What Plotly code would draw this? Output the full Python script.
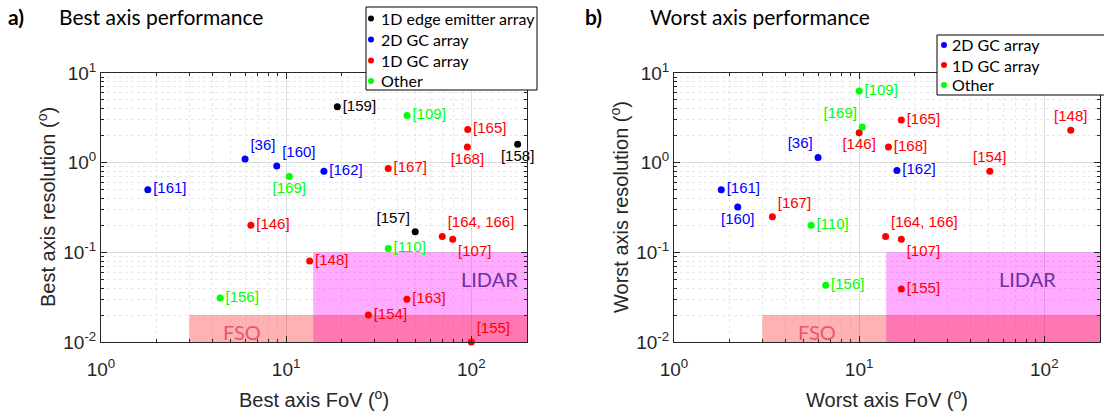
import math
import plotly.graph_objects as go

# ---------------- panel a) best axis ----------------
best_edge_labels = ["[159]", "[157]", "[158]"]
best_edge_fov = [18.9, 49.8, 178]
best_edge_res = [4.2, 0.17, 1.6]

best_2d_labels = ["[36]", "[160]", "[162]", "[161]"]
best_2d_fov = [6.0, 8.9, 16.0, 1.79]
best_2d_res = [1.1, 0.92, 0.80, 0.50]

best_1d_labels = ["[165]", "[168]", "[167]", "[146]", "[164, 166]", "[107]",
                  "[148]", "[163]", "[154]", "[155]"]
best_1d_fov = [95.7, 95.3, 35.6, 6.45, 69.7, 79.4, 13.4, 44.9, 27.8, 100]
best_1d_res = [2.35, 1.5, 0.86, 0.20, 0.15, 0.14, 0.08, 0.030, 0.020, 0.010]

best_other_labels = ["[109]", "[169]", "[110]", "[156]"]
best_other_fov = [45, 10.4, 35.6, 4.4]
best_other_res = [3.35, 0.70, 0.11, 0.031]

# ---------------- panel b) worst axis ----------------
worst_2d_labels = ["[36]", "[162]", "[161]", "[160]"]
worst_2d_fov = [6.0, 16.0, 1.80, 2.21]
worst_2d_res = [1.14, 0.82, 0.50, 0.32]

worst_1d_labels = ["[165]", "[148]", "[146]", "[168]", "[154]", "[167]",
                   "[164, 166]", "[107]", "[155]"]
worst_1d_fov = [16.9, 139, 10.0, 14.4, 50.8, 3.4, 13.9, 16.9, 16.9]
worst_1d_res = [3.0, 2.3, 2.15, 1.5, 0.80, 0.25, 0.15, 0.14, 0.039]

worst_other_labels = ["[109]", "[169]", "[110]", "[156]"]
worst_other_fov = [10.0, 10.4, 5.5, 6.6]
worst_other_res = [6.3, 2.5, 0.20, 0.043]

# regions (FoV range, resolution range)
lidar_fov = [14, 200]
lidar_res = [0.01, 0.1]
fso_fov = [3, 200]
fso_res = [0.01, 0.02]

# axis ticks
x_ticks = [1, 10, 100]
x_ticktext = ["10<sup>0</sup>", "10<sup>1</sup>", "10<sup>2</sup>"]
y_ticks = [0.01, 0.1, 1, 10]
y_ticktext = ["10<sup>-2</sup>", "10<sup>-1</sup>", "10<sup>0</sup>", "10<sup>1</sup>"]

# legends
legend_a_names = ["1D edge emitter array", "2D GC array", "1D GC array", "Other"]
legend_b_names = ["2D GC array", "1D GC array", "Other"]

# ---------------- label placement (style) ----------------
best_edge_pos = ["middle right", "top left", "bottom center"]
best_2d_pos = ["top right", "top right", "middle right", "middle right"]
best_1d_pos = ["middle right", "bottom center", "middle right", "middle right",
               "top right", "bottom right", "middle right", "middle right",
               "middle right", "top right"]
best_other_pos = ["middle right", "bottom center", "middle right", "middle right"]

worst_2d_pos = ["top left", "middle right", "middle right", "bottom center"]
worst_1d_pos = ["middle right", "top center", "bottom center", "middle right",
                "top center", "top right", "top right", "bottom right", "middle right"]
worst_other_pos = ["middle right", "top left", "middle right", "middle right"]

BLACK, BLUE, RED, GREEN = "#000000", "#0000ff", "#ff0000", "#00ff00"
AXC = "#262626"
W, H = 1104, 411
SANS = "Arial"
CAL = "Lato"

fig = go.Figure()


def add_group(name, xs, ys, labels, pos, color, xa, ya):
    fig.add_trace(go.Scatter(
        x=xs, y=ys, mode="markers+text", name=name, xaxis=xa, yaxis=ya,
        text=labels, textposition=pos,
        textfont=dict(family=SANS, size=15, color=color),
        marker=dict(size=7, color=color), showlegend=False, cliponaxis=False))


add_group(legend_a_names[0], best_edge_fov, best_edge_res, best_edge_labels,
          best_edge_pos, BLACK, "x", "y")
add_group(legend_a_names[1], best_2d_fov, best_2d_res, best_2d_labels,
          best_2d_pos, BLUE, "x", "y")
add_group(legend_a_names[2], best_1d_fov, best_1d_res, best_1d_labels,
          best_1d_pos, RED, "x", "y")
add_group(legend_a_names[3], best_other_fov, best_other_res, best_other_labels,
          best_other_pos, GREEN, "x", "y")

add_group(legend_b_names[0], worst_2d_fov, worst_2d_res, worst_2d_labels,
          worst_2d_pos, BLUE, "x2", "y2")
add_group(legend_b_names[1], worst_1d_fov, worst_1d_res, worst_1d_labels,
          worst_1d_pos, RED, "x2", "y2")
add_group(legend_b_names[2], worst_other_fov, worst_other_res, worst_other_labels,
          worst_other_pos, GREEN, "x2", "y2")

minor_x = [2, 3, 4, 5, 6, 7, 8, 9, 20, 30, 40, 50, 60, 70, 80, 90]
minor_y = [0.02, 0.03, 0.04, 0.05, 0.06, 0.07, 0.08, 0.09,
           0.2, 0.3, 0.4, 0.5, 0.6, 0.7, 0.8, 0.9,
           2, 3, 4, 5, 6, 7, 8, 9]


def axis(domain, rng, tickvals, ticktext, minor_vals, anchor, is_x):
    d = dict(
        type="log", domain=domain, range=rng, anchor=anchor,
        tickmode="array", tickvals=tickvals, ticktext=ticktext,
        showline=True, linecolor=AXC, linewidth=1, mirror="ticks",
        ticks="inside", ticklen=6, tickcolor=AXC,
        showgrid=True, gridcolor="#dcdcdc", gridwidth=1, zeroline=False,
        tickfont=dict(family=SANS, size=19, color=AXC),
        minor=dict(tickmode="array", tickvals=minor_vals, ticks="inside",
                   ticklen=3, tickcolor=AXC, showgrid=True,
                   gridcolor="#e8e8e8", griddash="dot", gridwidth=1),
        automargin=False,
    )
    if is_x:
        d["ticklabelstandoff"] = 10
    return d


ytop, ybot = 73, 342
ydom = [1 - ybot / H, 1 - ytop / H]
xdom1 = [101 / W, 527 / W]
xdom2 = [674 / W, 1100 / W]
xr = [0, math.log10(200)]
yr = [-2, 1]

fig.update_layout(
    width=W, height=H, autosize=False,
    margin=dict(l=0, r=0, t=0, b=0),
    paper_bgcolor="white", plot_bgcolor="white",
    font=dict(family=SANS, color=AXC),
    xaxis=axis(xdom1, xr, x_ticks, x_ticktext, minor_x, "y", True),
    yaxis=axis(ydom, yr, y_ticks, y_ticktext, minor_y, "x", False),
    xaxis2=axis(xdom2, xr, x_ticks, x_ticktext, minor_x, "y2", True),
    yaxis2=axis(ydom, yr, y_ticks, y_ticktext, minor_y, "x2", False),
    showlegend=False,
)

shapes = []
for xr_, yr_ in (("x", "y"), ("x2", "y2")):
    shapes.append(dict(type="rect", xref=xr_, yref=yr_, layer="between",
                       x0=lidar_fov[0], x1=lidar_fov[1], y0=lidar_res[0], y1=lidar_res[1],
                       fillcolor="#ff00ff", opacity=0.33, line=dict(width=0)))
    shapes.append(dict(type="rect", xref=xr_, yref=yr_, layer="between",
                       x0=fso_fov[0], x1=fso_fov[1], y0=fso_res[0], y1=fso_res[1],
                       fillcolor="#ff0000", opacity=0.3, line=dict(width=0)))

ann = []


def px_ann(x, y, text, size, color, family=CAL, xanchor="left", angle=0):
    ann.append(dict(xref="paper", yref="paper", x=x / W, y=1 - y / H,
                    xanchor=xanchor, yanchor="middle", text=text, showarrow=False,
                    textangle=angle, font=dict(family=family, size=size, color=color)))


def legend_box(names, colors, left, top, bottom, right, dot_x, text_x, rows):
    shapes.append(dict(type="rect", xref="paper", yref="paper", layer="above",
                       x0=left / W, x1=right / W, y0=1 - bottom / H, y1=1 - top / H,
                       fillcolor="white", line=dict(color="black", width=1)))
    for name, col, ry in zip(names, colors, rows):
        shapes.append(dict(type="circle", xref="paper", yref="paper", layer="above",
                           x0=(dot_x - 3) / W, x1=(dot_x + 3) / W,
                           y0=1 - (ry + 3) / H, y1=1 - (ry - 3) / H,
                           fillcolor=col, line=dict(width=0)))
        px_ann(text_x, ry, name, 16, "black")


legend_box(legend_a_names, [BLACK, BLUE, RED, GREEN], 366, 7, 90, 537,
           371, 379, [18.5, 39.5, 60.5, 81])
legend_box(legend_b_names, [BLUE, RED, GREEN], 937, 35, 95, 1110,
           944, 950, [45, 65, 85])

fig.update_layout(shapes=shapes)

for xr_, yr_, lx, fx in (("x", "y", 126, 5.8), ("x2", "y2", 81, 5.9)):
    ann.append(dict(xref=xr_, yref=yr_, x=math.log10(lx), y=math.log10(0.05),
                    text="LIDAR", showarrow=False,
                    font=dict(family=CAL, size=20, color="#7030a0")))
    ann.append(dict(xref=xr_, yref=yr_, x=math.log10(fx), y=math.log10(0.0128),
                    text="FSO", showarrow=False,
                    font=dict(family=CAL, size=20, color="#e8547a")))

# panel titles
px_ann(6, 17, "<b>a)</b>", 21, "black")
px_ann(57, 17, "Best axis performance", 21, "black")
px_ann(583, 17, "<b>b)</b>", 21, "black")
px_ann(648, 17, "Worst axis performance", 21, "black")

# axis titles
px_ann(314, 398, "Best axis FoV (<sup>o</sup>)", 20, AXC, SANS, "center")
px_ann(887, 398, "Worst axis FoV (<sup>o</sup>)", 20, AXC, SANS, "center")
px_ann(46, 207, "Best axis resolution (<sup>o</sup>)", 20, AXC, SANS, "center", -90)
px_ann(619, 207, "Worst axis resolution (<sup>o</sup>)", 20, AXC, SANS, "center", -90)

fig.update_layout(annotations=ann)

fig.write_html("out.html")
